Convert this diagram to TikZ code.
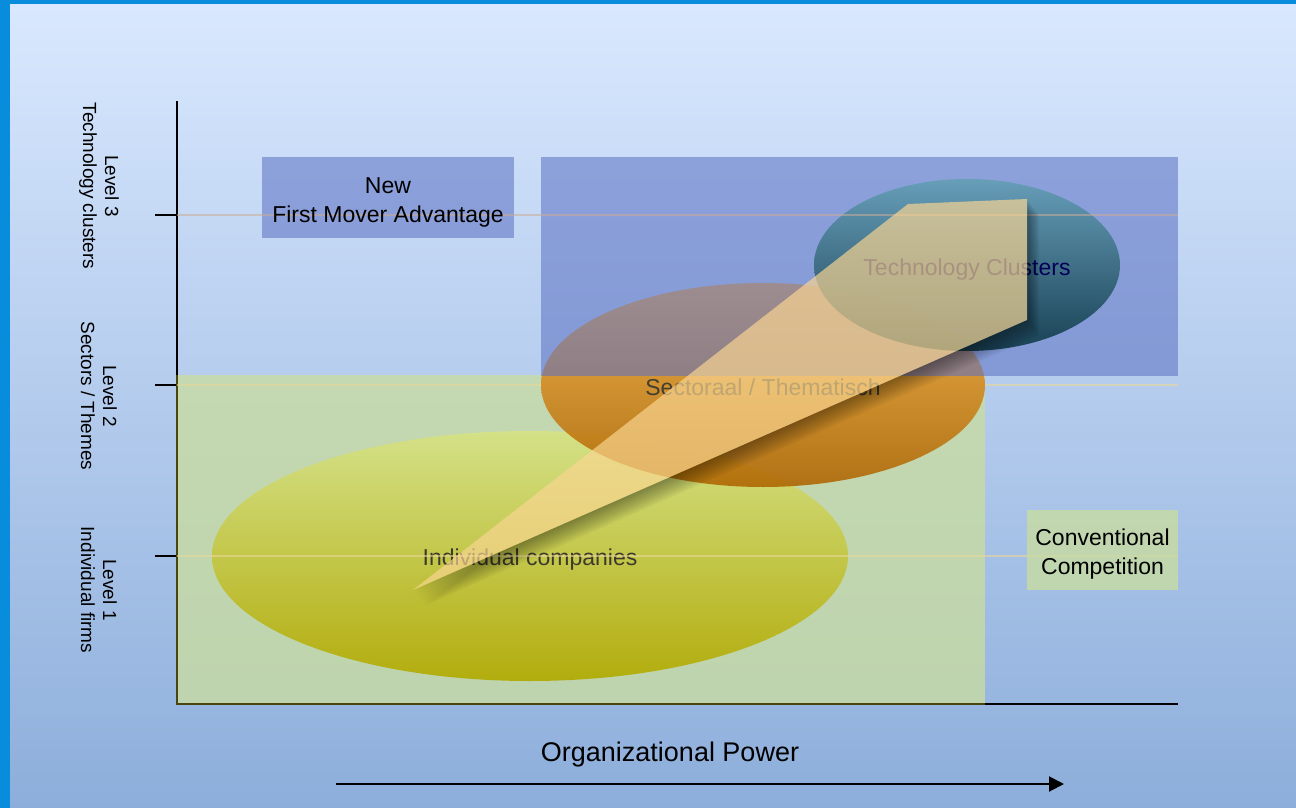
\documentclass[tikz,border=0pt]{standalone}
\usepackage{fontspec}
\setmainfont{Liberation Sans}
\usetikzlibrary{shapes.geometric,arrows.meta,positioning}

\definecolor{framebl}{RGB}{8,140,220}
\definecolor{bgtop}{RGB}{217,232,254}
\definecolor{bgbot}{RGB}{141,174,219}
\definecolor{zoneblue}{RGB}{90,112,195}
\definecolor{zonegreen}{RGB}{200,220,162}
\definecolor{zoneedge}{RGB}{72,70,12}
\definecolor{firmtop}{RGB}{214,226,132}
\definecolor{firmbot}{RGB}{178,170,0}
\definecolor{sectop}{RGB}{246,172,62}
\definecolor{secbot}{RGB}{174,100,0}
\definecolor{clustop}{RGB}{100,158,182}
\definecolor{clusbot}{RGB}{16,58,74}
\definecolor{beam}{RGB}{250,214,146}
\definecolor{gridtan}{RGB}{234,216,152}
\definecolor{gridrose}{RGB}{204,170,150}

\begin{document}
\begin{tikzpicture}[
  x=1pt, y=-1pt,
  zone/.style={inner sep=0pt, align=center, fill opacity=0.55, text opacity=1},
  bluezone/.style={zone, fill=zoneblue},
  greenzone/.style={zone, fill=zonegreen, fill opacity=0.8},
  blob/.style={ellipse, inner sep=0pt, fill opacity=0.92},
  blobtext/.style={font=\fontsize{23}{29}\selectfont, inner sep=0pt, align=center},
  lvl/.style={rotate=-90, align=center, font=\fontsize{19}{22}\selectfont},
  axis/.style={line width=2pt},
  gridline/.style={line width=1.6pt, draw=gridtan, opacity=0.6},
  arr/.style={-{Triangle[length=15pt, width=15pt]}, line width=2pt}
]
\useasboundingbox (0,0) rectangle (1296,808);

% frame and backdrop
\fill[framebl] (0,0) rectangle (1296,808);
\shade[top color=bgtop, bottom color=bgbot] (10,5) rectangle (1296,808);

% axes
\coordinate (orig) at (177,704);
\coordinate (ytop) at (177,101);
\coordinate (xend) at (1178,704);
\draw[axis] (ytop) -- (orig) -- (xend);

% level ticks
\foreach \y/\n in {215/3, 385/2, 556/1} {
  \coordinate (t\n) at (155,\y);
  \coordinate (g\n) at (1178,\y);
  \draw[line width=1.5pt] (t\n) -- (orig |- t\n);
}

% conventional competition zone
\node[greenzone, minimum width=808pt, minimum height=329pt] (conv) at (581,539.5) {};
\draw[line width=2.5pt, zoneedge] (conv.north west) -- (conv.south west) -- (conv.south east);

% level 1
\node[blob, top color=firmtop, bottom color=firmbot,
      minimum width=636pt, minimum height=250pt] (firms) at (530,556) {};
\node[blobtext, text=black!75!olive] (firmslab) at ([yshift=-4pt]firms.center) {Individual companies};

\foreach \n in {1,2}
  \draw[gridline] (orig |- t\n) -- (g\n);

% level 2
\node[blob, top color=sectop, bottom color=secbot, fill opacity=0.88,
      minimum width=444pt, minimum height=204pt] (sectors) at (763,385) {};
\node[blobtext, text=black!70!olive] (sectorslab) at ([yshift=-2pt]sectors.center) {Sectoraal / Thematisch};

% new first mover zone
\node[bluezone, minimum width=637pt, minimum height=219pt] (fma) at (859.5,266.5) {};
\node[bluezone, minimum width=252pt, minimum height=81pt] (newfma) at (388,197.5) {};
\node[greenzone, minimum width=151pt, minimum height=80pt] (convbox) at (1102.5,550) {};
\node[blobtext] (convlab) at ([yshift=-4.5pt]convbox.center) {Conventional\\Competition};

% level 3
\node[blob, top color=clustop, bottom color=clusbot,
      minimum width=306pt, minimum height=172pt] (clusters) at (967,265) {};
\node[blobtext, text=black!65!blue] (clusterslab) at ([yshift=-5pt]clusters.center) {Technology Clusters};
\draw[gridline, draw=gridrose, opacity=0.55] (orig |- t3) -- (g3);
\node[blobtext] (newfmalab) at ([yshift=-4.5pt]newfma.center) {New\\First Mover Advantage};

% growth beam with soft shadow
\coordinate (tip) at (413,590);
\coordinate (tl) at (908,204);
\coordinate (tr) at (1027,199);
\coordinate (br) at (1027,320);
\begin{scope}[even odd rule]
  \clip (0,0) rectangle (1296,808) (tip) -- (tl) -- (tr) -- (br) -- cycle;
  \foreach \s in {1,...,12}
    \fill[black, fill opacity=0.035]
      ([shift={(\s,1.3*\s)}]tip) -- ([shift={(\s,1.3*\s)}]tl) --
      ([shift={(\s,1.3*\s)}]tr) -- ([shift={(\s,1.3*\s)}]br) -- cycle;
\end{scope}
\fill[beam, fill opacity=0.68] (tip) -- (tl) -- (tr) -- (br) -- cycle;

% level labels
\node[lvl] (lab3) at (99,186) {Level 3\\Technology clusters};
\node[lvl] (lab2) at (99,396) {Level 2\\Sectors / Themes};
\node[lvl] (lab1) at (99,590) {Level 1\\Individual firms};

% horizontal direction
\node[font=\fontsize{27}{30}\selectfont] (power) at (670,755) {Organizational Power};
\coordinate (p0) at (336,784);
\coordinate (p1) at (1064,784);
\draw[arr] (p0) -- (p1);
\end{tikzpicture}
\end{document}
